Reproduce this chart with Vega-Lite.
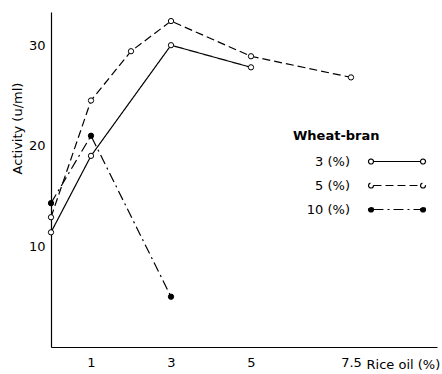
{
  "$schema": "https://vega.github.io/schema/vega-lite/v6.json",
  "width": 386,
  "height": 335,
  "autosize": "none",
  "padding": {"left": 51, "top": 12, "right": 5, "bottom": 27},
  "background": "white",
  "config": {
    "view": {"stroke": null},
    "font": "DejaVu Sans",
    "legend": {
      "orient": "none",
      "legendX": 242,
      "legendY": 118,
      "padding": 0,
      "symbolType": "M13.8,0a0.5,0.5 0 1,0 1,0a0.5,0.5 0 1,0 -1,0M14.8,0H24.2M24.2,0a0.5,0.5 0 1,0 1,0a0.5,0.5 0 1,0 -1,0",
      "symbolSize": 100,
      "symbolStrokeColor": "black",
      "symbolStrokeWidth": 1.2,
      "symbolOpacity": 1,
      "labelAlign": "right",
      "labelOffset": 44,
      "labelFontSize": 13,
      "labelColor": "black",
      "titleFontSize": 13,
      "titleFontWeight": "bold",
      "titleColor": "black",
      "titlePadding": 12,
      "rowPadding": 10
    }
  },
  "data": {
    "values": [
      {"series": "3 (%)", "x": 0, "y": 11.4},
      {"series": "3 (%)", "x": 1, "y": 19.0},
      {"series": "3 (%)", "x": 3, "y": 30.0},
      {"series": "3 (%)", "x": 5, "y": 27.8},
      {"series": "5 (%)", "x": 0, "y": 12.9},
      {"series": "5 (%)", "x": 1, "y": 24.5},
      {"series": "5 (%)", "x": 2, "y": 29.4},
      {"series": "5 (%)", "x": 3, "y": 32.4},
      {"series": "5 (%)", "x": 5, "y": 28.9},
      {"series": "5 (%)", "x": 7.5, "y": 26.8},
      {"series": "10 (%)", "x": 0, "y": 14.3},
      {"series": "10 (%)", "x": 1, "y": 21.0},
      {"series": "10 (%)", "x": 3, "y": 5.0}
    ]
  },
  "encoding": {
    "x": {
      "field": "x",
      "type": "quantitative",
      "scale": {"domain": [0, 9.65], "nice": false},
      "axis": {
        "values": [1, 3, 5, 7.5],
        "labelExpr": "toString(datum.value)",
        "ticks": false,
        "grid": false,
        "domainColor": "black",
        "domainWidth": 1.2,
        "labelFontSize": 13,
        "labelColor": "black",
        "labelPadding": 9,
        "labelFlush": false,
        "title": "Rice oil (%)",
        "titleX": 315,
        "titleY": 17,
        "titleAlign": "left",
        "titleBaseline": "middle",
        "titleFontSize": 13,
        "titleFontWeight": "normal",
        "titleColor": "black"
      }
    },
    "y": {
      "field": "y",
      "type": "quantitative",
      "scale": {"domain": [0, 33.3], "nice": false},
      "axis": {
        "values": [10, 20, 30],
        "ticks": false,
        "grid": false,
        "domainColor": "black",
        "domainWidth": 1.2,
        "labelFontSize": 13,
        "labelColor": "black",
        "labelPadding": 6,
        "title": "Activity (u/ml)",
        "titleX": -34,
        "titleY": 116,
        "titleAlign": "center",
        "titleBaseline": "middle",
        "titleFontSize": 13,
        "titleFontWeight": "normal",
        "titleColor": "black"
      }
    }
  },
  "layer": [
    {
      "mark": {"type": "line", "color": "black", "strokeWidth": 1.2},
      "encoding": {
        "strokeDash": {
          "field": "series",
          "type": "nominal",
          "title": "Wheat-bran",
          "scale": {"domain": ["3 (%)", "5 (%)", "10 (%)"], "range": [[1, 0], [8, 4], [10, 4, 2, 4]]}
        }
      }
    },
    {
      "mark": {"type": "point", "filled": true, "opacity": 1, "stroke": "black", "strokeWidth": 1},
      "encoding": {
        "fill": {
          "field": "series",
          "type": "nominal",
          "title": "Wheat-bran",
          "scale": {"domain": ["3 (%)", "5 (%)", "10 (%)"], "range": ["white", "white", "black"]}
        },
        "size": {"value": 28}
      }
    }
  ]
}
